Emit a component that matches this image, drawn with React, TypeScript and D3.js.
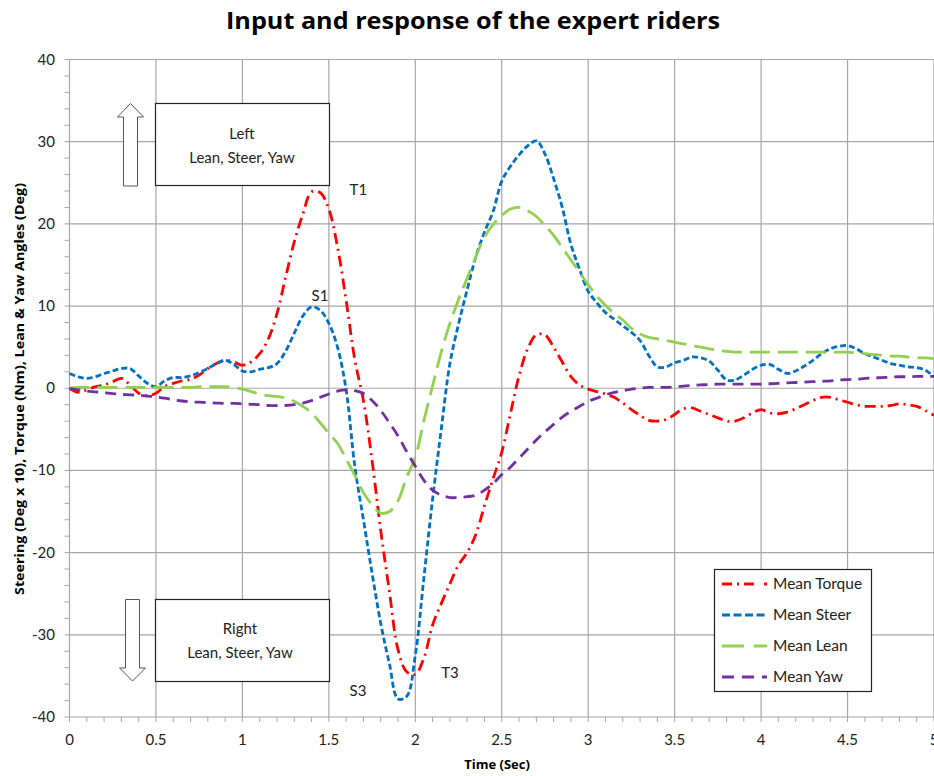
import React from "react";
import * as d3 from "d3";

const time = [
  0, 0.05, 0.1, 0.15, 0.2, 0.25, 0.3, 0.35, 0.4, 0.45,
  0.5, 0.55, 0.6, 0.65, 0.7, 0.75, 0.8, 0.85, 0.9, 0.95,
  1.0, 1.05, 1.1, 1.15, 1.2, 1.25, 1.3, 1.35, 1.4, 1.45,
  1.5, 1.55, 1.6, 1.65, 1.7, 1.75, 1.8, 1.85, 1.9, 1.95,
  2.0, 2.05, 2.1, 2.15, 2.2, 2.25, 2.3, 2.35, 2.4, 2.45,
  2.5, 2.55, 2.6, 2.65, 2.7, 2.75, 2.8, 2.85, 2.9, 2.95,
  3.0, 3.05, 3.1, 3.15, 3.2, 3.25, 3.3, 3.35, 3.4, 3.45,
  3.5, 3.55, 3.6, 3.65, 3.7, 3.75, 3.8, 3.85, 3.9, 3.95,
  4.0, 4.05, 4.1, 4.15, 4.2, 4.25, 4.3, 4.35, 4.4, 4.45,
  4.5, 4.55, 4.6, 4.65, 4.7, 4.75, 4.8, 4.85, 4.9, 4.95,
  5.0,
];

const meanTorque = [
  0, -0.5, -0.2, 0.2, 0.4, 0.8, 1.2, 0.4, -0.6, -0.9,
  -0.6, 0.2, 0.6, 0.9, 1.1, 1.6, 2.4, 3.0, 3.4, 3.2,
  2.8, 3.2, 4.2, 6.0, 9.1, 13.5, 17.8, 21.2, 23.9, 23.8,
  21.8, 17.2, 10.7, 3.5, -1.5, -8.8, -17.3, -24.7, -31.8, -34.5,
  -34.8, -32.8, -28.8, -26.2, -23.8, -21.5, -20, -17.8, -14.3, -11,
  -7.8, -3.1, 1.5, 4.8, 6.5, 6.5, 5.0, 3.2, 1.4, 0.4,
  -0.1, -0.4, -0.7, -1.1, -1.8, -2.6, -3.3, -3.9, -4.0, -3.8,
  -3.2, -2.5, -2.4, -2.8, -3.2, -3.6, -4.0, -4.0, -3.6, -3.0,
  -2.6, -3.0, -3.1, -2.9, -2.5, -2.0, -1.5, -1.1, -1.1, -1.4,
  -1.7, -2.0, -2.2, -2.2, -2.2, -2.1, -1.9, -2.0, -2.2, -2.7,
  -3.3,
];

const meanSteer = [
  1.8, 1.4, 1.2, 1.4, 1.8, 2.1, 2.4, 2.4, 1.5, 0.6,
  0.2, 0.9, 1.3, 1.3, 1.5, 1.9, 2.4, 3.0, 3.4, 2.9,
  2.1, 2.0, 2.3, 2.5, 3.0, 4.5, 6.7, 8.8, 9.9, 9.5,
  7.9, 5.0, -0.2, -9.5, -16, -22.5, -28.6, -33.5, -37.8, -37.5,
  -32.5, -23, -13.5, -5, 3, 7.8, 12, 16, 19, 21.5,
  25.2, 27, 28.4, 29.5, 30.1, 28.5, 25.5, 22, 17.5, 14.5,
  11.8, 10.4, 9.2, 8.4, 7.6, 6.8, 5.8, 4.0, 2.6, 2.6,
  3.1, 3.4, 3.8, 3.7, 3.3, 2.2, 1.0, 1.0, 1.6, 2.3,
  2.8, 2.9, 2.3, 1.8, 2.1, 2.7, 3.4, 4.2, 4.8, 5.1,
  5.2, 4.8, 4.2, 3.8, 3.4, 3.0, 2.8, 2.6, 2.5, 2.2,
  1.4,
];

const meanLean = [
  0, 0.1, 0.1, 0.1, 0.1, 0.1, 0.1, 0.1, 0.1, 0.1,
  0.1, 0.1, 0.1, 0.1, 0.1, 0.2, 0.2, 0.2, 0.2, 0.1,
  -0.1, -0.4, -0.7, -0.9, -1.0, -1.2, -1.6, -2.2, -3.0, -4.2,
  -5.5, -6.7, -8.6, -10.6, -12.7, -14.2, -15.2, -15.0, -13.7, -10.8,
  -8.4, -3.9, 0.3, 4.4, 7.9, 10.8, 13.4, 16.0, 18.4, 19.9,
  21.0, 21.8, 22.0, 21.6, 20.9, 19.8, 18.6, 17.1, 15.6, 14.1,
  12.6, 11.2, 10.1, 9.1, 8.3, 7.3, 6.6, 6.2, 6.0, 5.8,
  5.6, 5.4, 5.2, 5.0, 4.8, 4.6, 4.5, 4.4, 4.4, 4.4,
  4.4, 4.4, 4.4, 4.4, 4.4, 4.4, 4.4, 4.4, 4.4, 4.4,
  4.4, 4.3, 4.2, 4.1, 4.0, 3.9, 3.9, 3.8, 3.7, 3.7,
  3.6,
];

const meanYaw = [
  0, -0.2, -0.35, -0.45, -0.55, -0.65, -0.75, -0.8, -0.85, -0.95,
  -1.05, -1.2, -1.4, -1.55, -1.65, -1.7, -1.75, -1.8, -1.85, -1.85,
  -1.9, -1.95, -2.0, -2.1, -2.1, -2.1, -2.0, -1.8, -1.5, -1.1,
  -0.7, -0.35, -0.2, -0.3, -0.65, -1.5, -2.7, -4.2, -5.8, -7.7,
  -9.5, -11.2, -12.4, -13.0, -13.3, -13.3, -13.2, -13.0, -12.4, -11.6,
  -10.5, -9.6, -8.5, -7.4, -6.3, -5.3, -4.4, -3.5, -2.8, -2.2,
  -1.6, -1.2, -0.8, -0.5, -0.3, -0.1, 0.0, 0.1, 0.1, 0.1,
  0.15, 0.25, 0.35, 0.4, 0.45, 0.5, 0.5, 0.5, 0.5, 0.5,
  0.5, 0.55, 0.6, 0.65, 0.7, 0.75, 0.8, 0.85, 0.9, 1.0,
  1.05, 1.1, 1.2, 1.25, 1.3, 1.35, 1.4, 1.4, 1.45, 1.45,
  1.45,
];

const xTicks = [0, 0.5, 1, 1.5, 2, 2.5, 3, 3.5, 4, 4.5, 5];
const yTicks = [-40, -30, -20, -10, 0, 10, 20, 30, 40];
const xMinorTicks = d3.range(0, 51).map((i) => i / 10);
const yMinorTicks = d3.range(-40, 41, 2);

const seriesNames = ["Mean Torque", "Mean Steer", "Mean Lean", "Mean Yaw"];
const seriesValues = [meanTorque, meanSteer, meanLean, meanYaw];
const seriesColors = ["#FF0000", "#0070C0", "#92D050", "#7030A0"];
const seriesDash = ["11 5 2 5", "6 3", "20 8", "11 7"];
const legendDash = ["10 5 2 5 10", "8 3.5", "22 10", "12 8"];

const annotations = [
  { text: "T1", t: 1.62, v: 23.5 },
  { text: "S1", t: 1.4, v: 10.6 },
  { text: "S3", t: 1.62, v: -37.5 },
  { text: "T3", t: 2.15, v: -35.2 },
];

const W = 934;
const H = 776;
const FONT = "Lato, 'Open Sans', sans-serif";
const BOLD_FONT = "'Open Sans', Lato, sans-serif";

export default function App() {
  const x = d3.scaleLinear().domain([0, 5]).range([69.5, 934]);
  const y = d3.scaleLinear().domain([-40, 40]).range([717, 59.5]);

  const line = d3
    .line<number>()
    .x((_, i) => x(time[i]))
    .y((d) => y(d))
    .curve(d3.curveCatmullRom.alpha(0.5));

  const grid = "#a6a6a6";
  const text = "#222";

  return (
    <svg
      width={W}
      height={H}
      style={{ position: "absolute", left: 0, top: 0, background: "#fff" }}
      fontFamily={FONT}
    >
      <rect x={0} y={0} width={W} height={H} fill="#fff" />
      <text
        x={226}
        y={29}
        fontSize={22.5}
        fontWeight="bold"
        fontFamily={BOLD_FONT}
        fill="#000"
        textLength={494}
        lengthAdjust="spacingAndGlyphs"
      >
        Input and response of the expert riders
      </text>

      {/* grid */}
      {xTicks.map((t) => (
        <line key={"gx" + t} x1={x(t)} x2={x(t)} y1={y(40)} y2={y(-40)} stroke={grid} strokeWidth={1.2} />
      ))}
      {yTicks.map((v) => (
        <line key={"gy" + v} x1={x(0)} x2={x(5)} y1={y(v)} y2={y(v)} stroke={grid} strokeWidth={1.2} />
      ))}
      {/* minor ticks */}
      {xMinorTicks.map((t) => (
        <line key={"mx" + t} x1={x(t)} x2={x(t)} y1={y(-40)} y2={y(-40) + 5} stroke={grid} strokeWidth={1} />
      ))}
      {yMinorTicks.map((v) => (
        <line key={"my" + v} x1={x(0) - 5} x2={x(0)} y1={y(v)} y2={y(v)} stroke={grid} strokeWidth={1} />
      ))}

      {/* tick labels */}
      {yTicks.map((v) => (
        <text key={"ly" + v} x={55} y={y(v) + 5} textAnchor="end" fontSize={15} fill={text}>
          {v}
        </text>
      ))}
      {xTicks.map((t) => (
        <text key={"lx" + t} x={x(t)} y={745} textAnchor="middle" fontSize={15} fill={text}>
          {t}
        </text>
      ))}

      {/* axis titles */}
      <text x={497} y={769} textAnchor="middle" fontSize={13} fontWeight="bold" fontFamily={BOLD_FONT} fill="#000">
        Time (Sec)
      </text>
      <text
        transform={`translate(24, 389) rotate(-90)`}
        textAnchor="middle"
        fontSize={13}
        fontWeight="bold"
        fontFamily={BOLD_FONT}
        fill="#000"
        textLength={412}
        lengthAdjust="spacingAndGlyphs"
      >
        Steering (Deg x 10), Torque (Nm), Lean &amp; Yaw Angles (Deg)
      </text>

      {/* boxes */}
      <rect x={155.5} y={103.5} width={174} height={82} fill="#fff" stroke="#222" strokeWidth={1.2} />
      <text x={242} y={139} textAnchor="middle" fontSize={15} fill={text}>Left</text>
      <text x={242} y={163} textAnchor="middle" fontSize={15} fill={text}>Lean, Steer, Yaw</text>
      <path
        d="M123.5,186 L123.5,117 L117.5,117 L130.5,103.5 L143.5,117 L137.5,117 L137.5,186 Z"
        fill="#fff"
        stroke="#555"
        strokeWidth={1}
      />

      <rect x={155.5} y={599.5} width={174} height={82} fill="#fff" stroke="#222" strokeWidth={1.2} />
      <text x={240} y={634} textAnchor="middle" fontSize={15} fill={text}>Right</text>
      <text x={240} y={658} textAnchor="middle" fontSize={15} fill={text}>Lean, Steer, Yaw</text>
      <path
        d="M125.5,599.5 L125.5,668 L119.5,668 L132.5,681 L145.5,668 L139.5,668 L139.5,599.5 Z"
        fill="#fff"
        stroke="#555"
        strokeWidth={1}
      />

      {/* series */}
      {seriesValues.map((vals, i) => (
        <path
          key={seriesNames[i]}
          d={line(vals) || ""}
          fill="none"
          stroke={seriesColors[i]}
          strokeWidth={2.8}
          strokeDasharray={seriesDash[i]}
        />
      ))}

      {/* annotations */}
      {annotations.map((a) => (
        <text key={a.text} x={x(a.t)} y={y(a.v)} fontSize={15} fill={text} textAnchor="start">
          {a.text}
        </text>
      ))}

      {/* legend */}
      <rect x={714.5} y={569.5} width={157} height={122} fill="#fff" stroke="#222" strokeWidth={1.2} />
      {seriesNames.map((n, i) => {
        const ly = 584 + i * 31;
        return (
          <g key={"leg" + n}>
            <line
              x1={722}
              x2={767}
              y1={ly}
              y2={ly}
              stroke={seriesColors[i]}
              strokeWidth={2.8}
              strokeDasharray={legendDash[i]}
            />
            <text x={773} y={ly + 5} fontSize={15.5} fill={text}>
              {n}
            </text>
          </g>
        );
      })}
    </svg>
  );
}
